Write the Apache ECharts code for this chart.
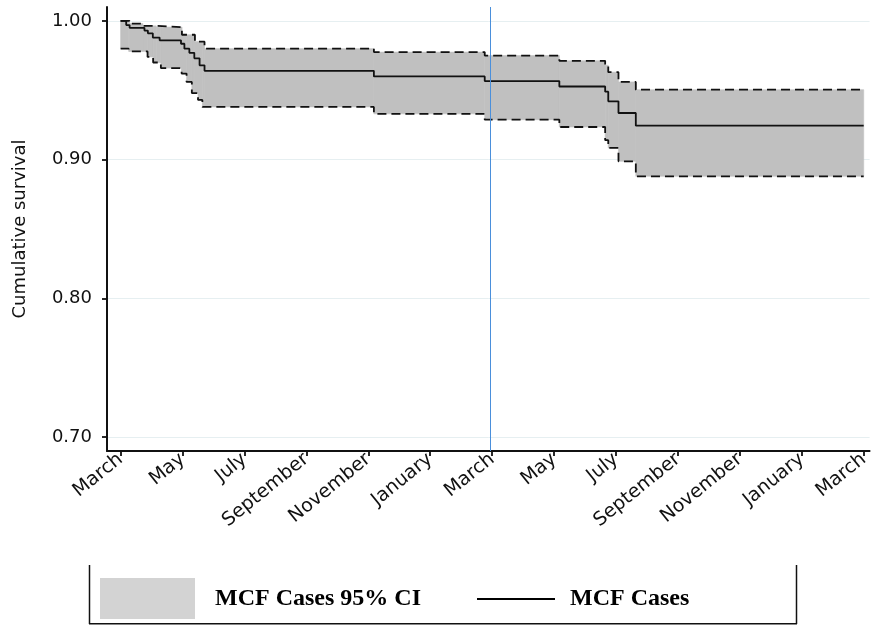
<!DOCTYPE html>
<html>
<head>
<meta charset="utf-8">
<script src="https://cdn.jsdelivr.net/npm/echarts@6/dist/echarts.min.js"></script>
<style>
html,body{margin:0;padding:0;background:#fff;}
#chart{width:872px;height:625px;}
</style>
</head>
<body>
<div id="chart"></div>
<script>
// ---- data (months since first March) ----
const tickMonths = [0, 2, 4, 6, 8, 10, 12, 14, 16, 18, 20, 22, 24];
const tickLabels = ['March', 'May', 'July', 'September', 'November', 'January', 'March',
                    'May', 'July', 'September', 'November', 'January', 'March'];
const yTicks = [0.70, 0.80, 0.90, 1.00];

const survMonths = [0, 0.18, 0.29, 0.77, 0.88, 1.04, 1.26, 1.95, 2.06, 2.22, 2.38, 2.55, 2.71,
                    8.18, 11.76, 14.17, 15.65, 15.75, 16.08, 16.64, 24];
const survValues = [1.000, 0.997, 0.995, 0.993, 0.991, 0.988, 0.986, 0.9835, 0.980, 0.977, 0.973, 0.968, 0.964,
                    0.960, 0.9566, 0.9527, 0.949, 0.942, 0.9336, 0.9245, 0.9245];

const upperMonths = [0, 0.29, 0.72, 1.15, 1.98, 2.4, 2.71, 8.18, 11.76, 14.17, 15.65, 15.75, 16.08, 16.64, 24];
const upperValues = [1.000, 0.998, 0.9964, 0.9955, 0.990, 0.985, 0.980, 0.9775, 0.975, 0.9712, 0.968, 0.963, 0.956, 0.9504, 0.9504];

const lowerMonths = [0, 0.26, 0.87, 1.05, 1.3, 1.97, 2.13, 2.3, 2.5, 2.64, 8.18, 11.76, 14.17, 15.65, 15.75, 16.08, 16.64, 24];
const lowerValues = [0.980, 0.978, 0.974, 0.970, 0.966, 0.962, 0.956, 0.948, 0.943, 0.938, 0.933, 0.9288, 0.9235, 0.914, 0.9084, 0.8988, 0.888, 0.888];

const refLineMonth = 11.95;

// ---- helpers ----
function pairs(ms, vs) { return ms.map((m, i) => [m, vs[i]]); }
function stepAt(ms, vs, t) { let v = vs[0]; for (let i = 0; i < ms.length; i++) { if (ms[i] <= t) v = vs[i]; } return v; }
const bandTimes = Array.from(new Set(upperMonths.concat(lowerMonths))).sort((a, b) => a - b);
const bandRows = [];
for (let i = 0; i < bandTimes.length - 1; i++) {
  const t = bandTimes[i];
  bandRows.push([t, bandTimes[i + 1], stepAt(lowerMonths, lowerValues, t), stepAt(upperMonths, upperValues, t)]);
}

const axisFont = 'DejaVu Sans';
const chart = echarts.init(document.getElementById('chart'), null, { renderer: 'canvas' });
chart.setOption({
  animation: false,
  backgroundColor: '#fff',
  grid: { left: 107, right: 0, top: 7, bottom: 174 },
  xAxis: {
    type: 'value', min: -0.44, max: 24.19,
    axisLine: { show: true, onZero: false, lineStyle: { color: '#111', width: 2 } },
    axisTick: { show: true, length: 5, customValues: tickMonths, lineStyle: { color: '#111', width: 1.8 } },
    axisLabel: {
      customValues: tickMonths, rotate: 39, margin: 6,
      fontFamily: axisFont, fontSize: 19, color: '#111',
      formatter: v => tickLabels[tickMonths.indexOf(Math.round(v))] || ''
    },
    splitLine: { show: false }
  },
  yAxis: {
    type: 'value', min: 0.69, max: 1.01,
    name: 'Cumulative survival', nameLocation: 'middle', nameGap: 78,
    nameTextStyle: { fontFamily: axisFont, fontSize: 18, color: '#111' },
    axisLine: { show: true, onZero: false, lineStyle: { color: '#111', width: 2 } },
    axisTick: { show: true, length: 5, customValues: yTicks, lineStyle: { color: '#111', width: 1.8 } },
    axisLabel: { customValues: yTicks, margin: 15, fontFamily: axisFont, fontSize: 18, color: '#111',
                 formatter: v => v.toFixed(2) },
    splitLine: { show: true, lineStyle: { color: '#e6eff1', width: 1 } }
  },
  legend: [
    {
      left: 95, top: 573, itemWidth: 95, itemHeight: 41, icon: 'rect', selectedMode: false,
      data: [{ name: 'MCF Cases 95% CI', itemStyle: { color: '#d3d3d3' } }],
      textStyle: { fontFamily: 'Liberation Serif', fontWeight: 'bold', fontSize: 24, color: '#000', padding: [0, 0, 0, 15] }
    },
    {
      left: 472, top: 582, itemWidth: 78, itemHeight: 2, icon: 'rect', selectedMode: false,
      data: [{ name: 'MCF Cases', itemStyle: { color: '#000' } }],
      textStyle: { fontFamily: 'Liberation Serif', fontWeight: 'bold', fontSize: 24, color: '#000', padding: [0, 0, 0, 10] }
    }
  ],
  graphic: [
    { type: 'line', shape: { x1: 89.5, y1: 565, x2: 89.5, y2: 624 }, style: { stroke: '#111', lineWidth: 1.5 } },
    { type: 'line', shape: { x1: 89, y1: 623.8, x2: 797, y2: 623.8 }, style: { stroke: '#111', lineWidth: 1.5 } },
    { type: 'line', shape: { x1: 796.5, y1: 565, x2: 796.5, y2: 624 }, style: { stroke: '#111', lineWidth: 1.5 } }
  ],
  series: [
    {
      name: 'MCF Cases 95% CI', type: 'custom', data: bandRows,
      encode: { x: [0, 1], y: [2, 3] },
      itemStyle: { color: '#d3d3d3' }, silent: true, z: 1,
      renderItem: function (params, api) {
        const p0 = api.coord([api.value(0), api.value(3)]);
        const p1 = api.coord([api.value(1), api.value(2)]);
        return {
          type: 'rect',
          shape: { x: p0[0], y: p0[1], width: p1[0] - p0[0], height: p1[1] - p0[1] },
          style: { fill: '#c0c0c0', stroke: '#c0c0c0', lineWidth: 0.6 }
        };
      }
    },
    {
      name: 'upper', type: 'line', step: 'end', data: pairs(upperMonths, upperValues),
      symbol: 'none', lineStyle: { color: '#111', width: 1.8, type: [9, 5] }, silent: true, z: 3
    },
    {
      name: 'lower', type: 'line', step: 'end', data: pairs(lowerMonths, lowerValues),
      symbol: 'none', lineStyle: { color: '#111', width: 1.8, type: [9, 5] }, silent: true, z: 3
    },
    {
      name: 'MCF Cases', type: 'line', step: 'end', data: pairs(survMonths, survValues),
      symbol: 'none', itemStyle: { color: '#000' }, lineStyle: { color: '#111', width: 1.8 }, silent: true, z: 4,
      markLine: {
        silent: true, symbol: 'none', label: { show: false },
        lineStyle: { color: '#4a8fdb', width: 1, type: 'solid' },
        data: [{ xAxis: refLineMonth }]
      }
    }
  ]
});
</script>
</body>
</html>
